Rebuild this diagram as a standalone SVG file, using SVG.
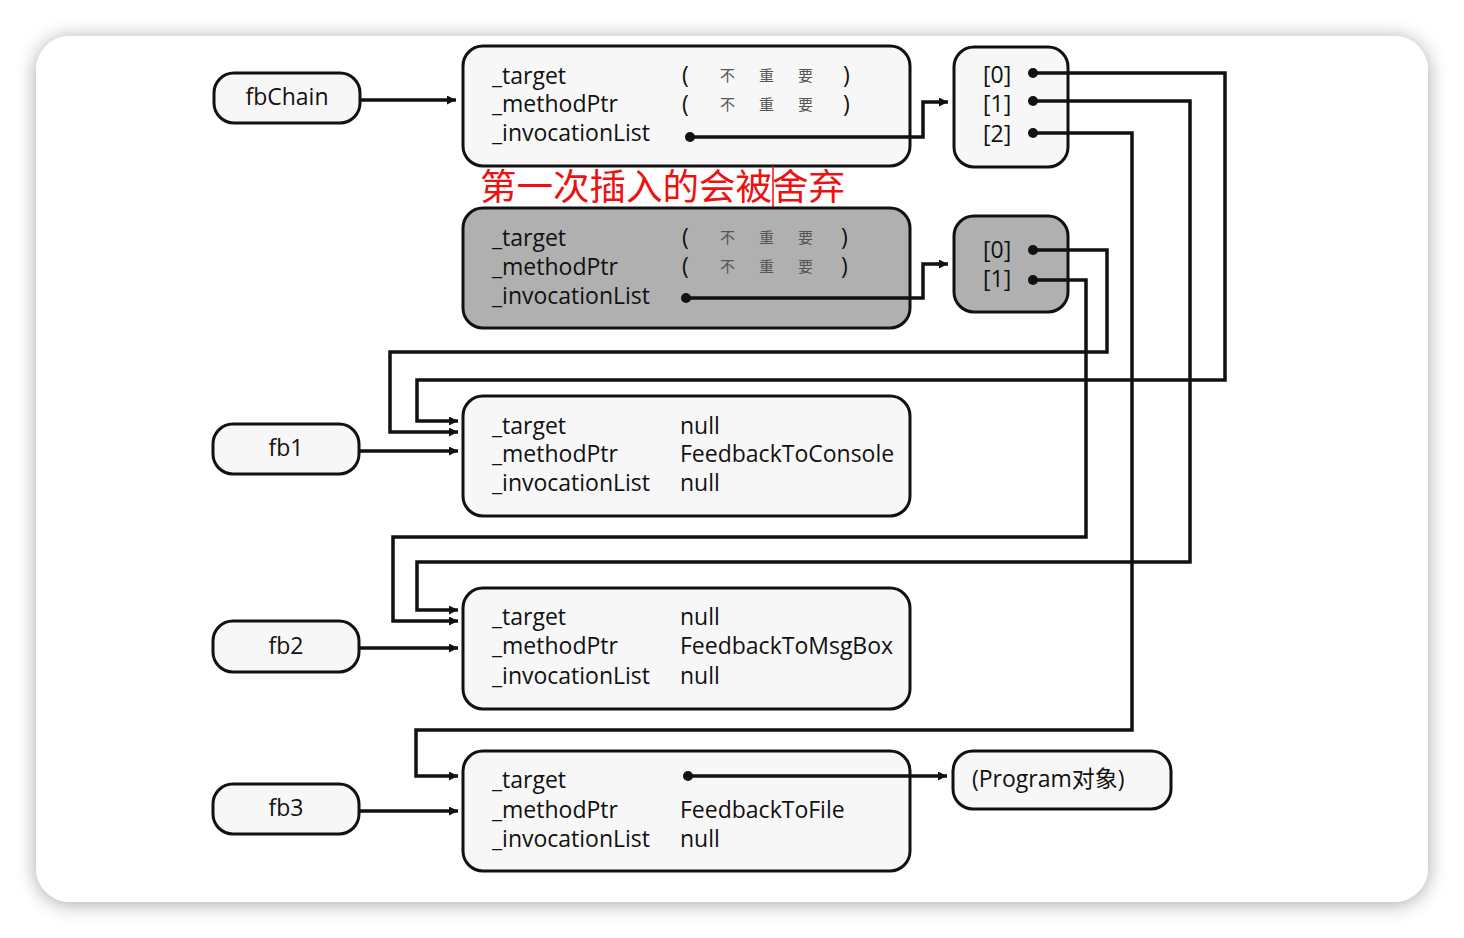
<svg xmlns="http://www.w3.org/2000/svg" width="1464" height="938" viewBox="0 0 1464 938">
<defs>
<filter id="sh" x="-5%" y="-5%" width="110%" height="110%">
<feGaussianBlur in="SourceAlpha" stdDeviation="10"/>
<feOffset dx="0" dy="2"/>
<feComponentTransfer><feFuncA type="linear" slope="0.35"/></feComponentTransfer>
<feMerge><feMergeNode/><feMergeNode in="SourceGraphic"/></feMerge>
</filter>
<marker id="ar" viewBox="0 0 10 10" refX="10" refY="5" markerWidth="10" markerHeight="9" markerUnits="userSpaceOnUse" orient="auto">
<path d="M0,0 L10,5 L0,10 Z" fill="#111"/>
</marker>
</defs>
<style>
.box{fill:#f7f7f7;stroke:#111;stroke-width:3}
.gbox{fill:#b0b0b0;stroke:#111;stroke-width:3}
.t{font-family:"Open Sans","Noto Sans",sans-serif;font-size:23px;fill:#111}
.cj{font-family:"Noto Sans CJK SC",sans-serif;font-size:15px;fill:#555}
.ln{fill:none;stroke:#111;stroke-width:3.5}
.dot{fill:#111}
</style>
<rect x="0" y="0" width="1464" height="938" fill="#ffffff"/>
<rect x="36" y="36" width="1392" height="866" rx="34" fill="#ffffff" filter="url(#sh)"/>

<g id="fbChain">
<rect class="box" x="214" y="73" width="146" height="50" rx="20"/>
<text class="t" x="287" y="105" text-anchor="middle">fbChain</text>
</g>
<g id="fb1">
<rect class="box" x="213" y="424" width="146" height="50" rx="20"/>
<text class="t" x="286" y="456" text-anchor="middle">fb1</text>
</g>
<g id="fb2">
<rect class="box" x="213" y="621" width="146" height="51" rx="20"/>
<text class="t" x="286" y="654" text-anchor="middle">fb2</text>
</g>
<g id="fb3">
<rect class="box" x="213" y="784" width="146" height="50" rx="20"/>
<text class="t" x="286" y="816" text-anchor="middle">fb3</text>
</g>

<g id="chainDelegate">
<rect class="box" x="463" y="46" width="447" height="120" rx="20"/>
<text class="t" x="492" y="84">_target</text>
<text class="t" x="492" y="112">_methodPtr</text>
<text class="t" x="492" y="141">_invocationList</text>
<text class="t" x="682" y="83">(</text><text class="cj" x="720" y="81">不</text><text class="cj" x="759" y="81">重</text><text class="cj" x="798" y="81">要</text><text class="t" x="843" y="83">)</text>
<text class="t" x="682" y="112">(</text><text class="cj" x="720" y="110">不</text><text class="cj" x="759" y="110">重</text><text class="cj" x="798" y="110">要</text><text class="t" x="843" y="112">)</text>
</g>

<g id="note">
<text x="480" y="200" font-family="Noto Sans CJK SC, sans-serif" font-size="36.5" fill="#ee1111">第一次插入的会被舍弃</text>
<line x1="773" y1="166" x2="773" y2="207" stroke="#ee1111" stroke-width="1.5"/>
</g>

<g id="discardedDelegate">
<rect class="gbox" x="463" y="208" width="447" height="120" rx="20"/>
<text class="t" x="492" y="246">_target</text>
<text class="t" x="492" y="275">_methodPtr</text>
<text class="t" x="492" y="304">_invocationList</text>
<text class="t" x="682" y="245">(</text><text class="cj" x="720" y="243">不</text><text class="cj" x="759" y="243">重</text><text class="cj" x="798" y="243">要</text><text class="t" x="841" y="245">)</text>
<text class="t" x="682" y="274">(</text><text class="cj" x="720" y="272">不</text><text class="cj" x="759" y="272">重</text><text class="cj" x="798" y="272">要</text><text class="t" x="841" y="274">)</text>
</g>

<g id="array3">
<rect class="box" x="954" y="47" width="114" height="120" rx="20"/>
<text class="t" x="983" y="83">[0]</text>
<text class="t" x="983" y="112">[1]</text>
<text class="t" x="983" y="142">[2]</text>
</g>

<g id="array2">
<rect class="gbox" x="954" y="216" width="114" height="96" rx="20"/>
<text class="t" x="983" y="258">[0]</text>
<text class="t" x="983" y="287">[1]</text>
</g>

<g id="fb1obj">
<rect class="box" x="463" y="396" width="447" height="120" rx="20"/>
<text class="t" x="492" y="434">_target</text>
<text class="t" x="492" y="462">_methodPtr</text>
<text class="t" x="492" y="491">_invocationList</text>
<text class="t" x="680" y="434">null</text>
<text class="t" x="680" y="462">FeedbackToConsole</text>
<text class="t" x="680" y="491">null</text>
</g>

<g id="fb2obj">
<rect class="box" x="463" y="588" width="447" height="121" rx="20"/>
<text class="t" x="492" y="625">_target</text>
<text class="t" x="492" y="654">_methodPtr</text>
<text class="t" x="492" y="684">_invocationList</text>
<text class="t" x="680" y="625">null</text>
<text class="t" x="680" y="654">FeedbackToMsgBox</text>
<text class="t" x="680" y="684">null</text>
</g>

<g id="fb3obj">
<rect class="box" x="463" y="751" width="447" height="120" rx="20"/>
<text class="t" x="492" y="788">_target</text>
<text class="t" x="492" y="818">_methodPtr</text>
<text class="t" x="492" y="847">_invocationList</text>
<text class="t" x="680" y="818">FeedbackToFile</text>
<text class="t" x="680" y="847">null</text>
</g>

<g id="program">
<rect class="box" x="953" y="751" width="218" height="58" rx="20"/>
<text x="972" y="787" font-family="Open Sans, Noto Sans CJK SC, sans-serif" font-size="23" fill="#111">(Program对象)</text>
</g>

<g id="connectors">
<path class="ln" d="M360,100 H456" marker-end="url(#ar)"/>
<path class="ln" d="M690,137 H923 V102 H948" marker-end="url(#ar)"/>
<path class="ln" d="M686,298 H923 V264 H948" marker-end="url(#ar)"/>
<path class="ln" d="M1033,73 H1225 V380 H417 V421 H458" marker-end="url(#ar)"/>
<path class="ln" d="M1033,101 H1190 V562 H417 V610 H458" marker-end="url(#ar)"/>
<path class="ln" d="M1033,133 H1132 V730 H416 V776 H458" marker-end="url(#ar)"/>
<path class="ln" d="M1033,250 H1107 V352 H390 V432 H458" marker-end="url(#ar)"/>
<path class="ln" d="M1033,280 H1086 V537 H393 V621 H458" marker-end="url(#ar)"/>
<path class="ln" d="M359,451 H458" marker-end="url(#ar)"/>
<path class="ln" d="M359,648 H458" marker-end="url(#ar)"/>
<path class="ln" d="M359,811 H458" marker-end="url(#ar)"/>
<path class="ln" d="M688,776 H947" marker-end="url(#ar)"/>
<circle class="dot" cx="690" cy="137" r="5"/>
<circle class="dot" cx="686" cy="298" r="5"/>
<circle class="dot" cx="1033" cy="73" r="5"/>
<circle class="dot" cx="1033" cy="101" r="5"/>
<circle class="dot" cx="1033" cy="133" r="5"/>
<circle class="dot" cx="1033" cy="250" r="5"/>
<circle class="dot" cx="1033" cy="280" r="5"/>
<circle class="dot" cx="688" cy="776" r="5"/>
</g>
</svg>
